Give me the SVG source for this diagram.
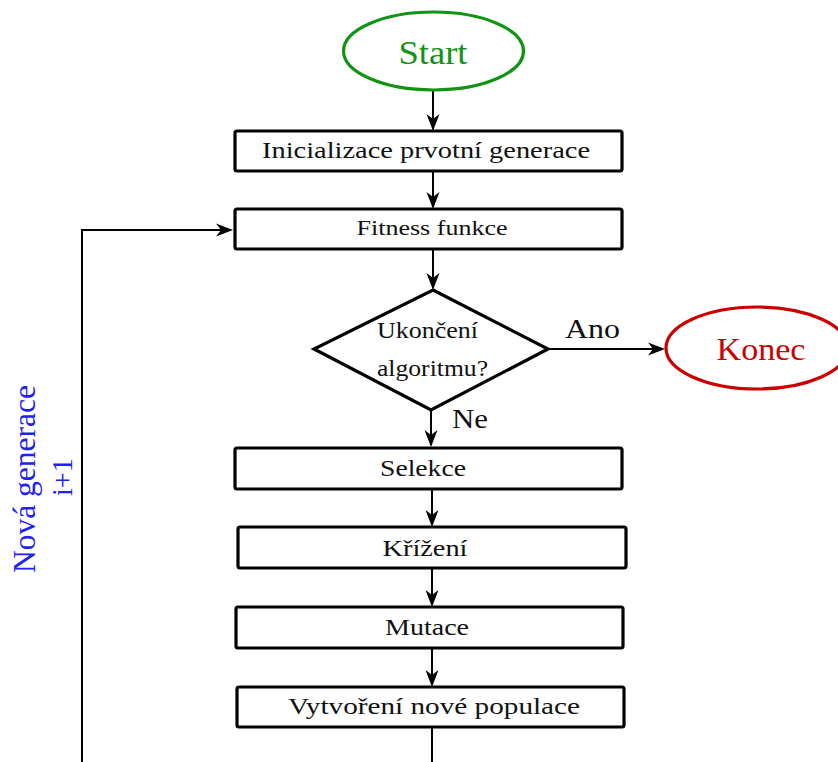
<svg xmlns="http://www.w3.org/2000/svg" width="838" height="762" viewBox="0 0 838 762">
<style>
text{font-family:"Liberation Serif","DejaVu Serif",serif;}
.box{fill:#fff;stroke:#000;stroke-width:3.2;}
.lbl{fill:#111;text-anchor:middle;}
.con{fill:none;stroke:#000;stroke-width:2;}
</style>
<defs>
<marker id="arr" viewBox="-20 -8 22 16" refX="-2" refY="0" markerWidth="22" markerHeight="16" markerUnits="userSpaceOnUse" orient="auto">
<path d="M0,0 L-17,-6.5 L-12,0 L-17,6.5 Z" fill="#000"/>
</marker>
</defs>
<rect width="838" height="762" fill="#fff"/>
<g id="connectors">
<line class="con" x1="433" y1="91" x2="433" y2="129" marker-end="url(#arr)"/>
<line class="con" x1="433" y1="172" x2="433" y2="207" marker-end="url(#arr)"/>
<line class="con" x1="433" y1="250" x2="433" y2="288" marker-end="url(#arr)"/>
<line class="con" x1="548" y1="349" x2="663" y2="349" marker-end="url(#arr)"/>
<line class="con" x1="431" y1="410" x2="431" y2="445" marker-end="url(#arr)"/>
<line class="con" x1="432" y1="490" x2="432" y2="525" marker-end="url(#arr)"/>
<line class="con" x1="432" y1="568" x2="432" y2="605" marker-end="url(#arr)"/>
<line class="con" x1="432" y1="648" x2="432" y2="685" marker-end="url(#arr)"/>
<line class="con" x1="432" y1="728" x2="432" y2="770"/>
<polyline class="con" points="82,770 82,230 231,230" marker-end="url(#arr)"/>
<text x="565" y="338" font-size="28" fill="#111" textLength="55" lengthAdjust="spacingAndGlyphs">Ano</text>
<text x="452" y="428" font-size="28" fill="#111" textLength="36" lengthAdjust="spacingAndGlyphs">Ne</text>
<text transform="translate(35,479) rotate(-90)" font-size="31" fill="#2222ee" text-anchor="middle" textLength="188" lengthAdjust="spacingAndGlyphs">Nová generace</text>
<text transform="translate(72,477) rotate(-90)" font-size="30" fill="#2222ee" text-anchor="middle" textLength="38" lengthAdjust="spacingAndGlyphs">i+1</text>
</g>
<g id="start">
<ellipse cx="433.5" cy="51" rx="90" ry="39" fill="#fff" stroke="#139313" stroke-width="3.2"/>
<text x="433" y="64" font-size="33" fill="#139313" text-anchor="middle" textLength="69" lengthAdjust="spacingAndGlyphs">Start</text>
</g>
<g id="init">
<rect class="box" x="235" y="131" width="387" height="40" rx="2"/>
<text class="lbl" x="426" y="158" font-size="24" textLength="328" lengthAdjust="spacingAndGlyphs">Inicializace prvotní generace</text>
</g>
<g id="fitness">
<rect class="box" x="235" y="209" width="387" height="40" rx="2"/>
<text class="lbl" x="432" y="235" font-size="22" textLength="151" lengthAdjust="spacingAndGlyphs">Fitness funkce</text>
</g>
<g id="decision">
<polygon points="433,290 548,349 431,410 314,349" fill="#fff" stroke="#000" stroke-width="3.2" stroke-linejoin="miter"/>
<text x="377" y="338" font-size="24" fill="#111" textLength="101" lengthAdjust="spacingAndGlyphs">Ukončení</text>
<text x="377" y="376" font-size="24" fill="#111" textLength="111" lengthAdjust="spacingAndGlyphs">algoritmu?</text>
</g>
<g id="konec">
<ellipse cx="757" cy="348" rx="91" ry="41" fill="#fff" stroke="#cc0000" stroke-width="3.2"/>
<text x="761" y="360" font-size="31" fill="#cc0000" text-anchor="middle" textLength="89" lengthAdjust="spacingAndGlyphs">Konec</text>
</g>
<g id="selekce">
<rect class="box" x="235" y="448" width="387" height="41" rx="2"/>
<text class="lbl" x="423" y="476" font-size="24" textLength="86" lengthAdjust="spacingAndGlyphs">Selekce</text>
</g>
<g id="krizeni">
<rect class="box" x="238" y="527" width="388" height="41" rx="2"/>
<text class="lbl" x="425" y="556" font-size="24" textLength="85" lengthAdjust="spacingAndGlyphs">Křížení</text>
</g>
<g id="mutace">
<rect class="box" x="236" y="607" width="387" height="41" rx="2"/>
<text class="lbl" x="427" y="635" font-size="24" textLength="84" lengthAdjust="spacingAndGlyphs">Mutace</text>
</g>
<g id="populace">
<rect class="box" x="237" y="687" width="387" height="40" rx="2"/>
<text class="lbl" x="434" y="714" font-size="24" textLength="292" lengthAdjust="spacingAndGlyphs">Vytvoření nové populace</text>
</g>
</svg>
